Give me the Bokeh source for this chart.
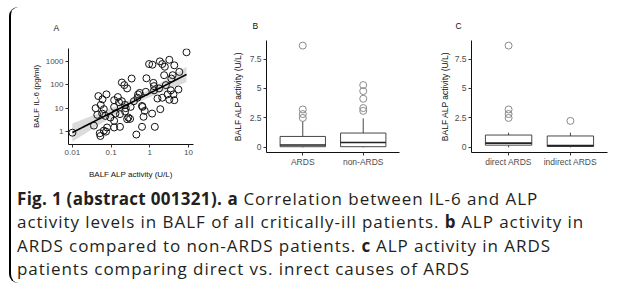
import numpy as np
from bokeh.plotting import figure
from bokeh.models import FixedTicker, Range1d, FactorRange, Div, ColumnDataSource
from bokeh.layouts import row, column
from bokeh.embed import file_html
from bokeh.resources import INLINE

# ---------------- data ----------------
# Panel A: BALF ALP activity (U/L) vs BALF IL-6 (pg/ml)
alp_activity = [0.010, 0.036, 0.040, 0.044, 0.047, 0.051, 0.053, 0.054, 0.059, 0.060, 0.065, 0.065,
                0.071, 0.076, 0.079, 0.074,
                0.096, 0.12, 0.12, 0.12, 0.12, 0.13, 0.15, 0.16, 0.17, 0.17, 0.19, 0.19, 0.22,
                0.23, 0.23, 0.24, 0.26, 0.26, 0.28, 0.31, 0.34, 0.32,
                0.39, 0.45, 0.48, 0.50, 0.55, 0.63, 0.63, 0.65, 0.69, 0.74, 0.79, 0.82, 0.96,
                1.15, 1.17, 1.24, 1.29, 1.29, 1.35, 1.58, 1.74, 1.82, 1.87, 2.1, 2.1, 2.35, 2.45,
                2.6, 2.9, 3.2, 3.2, 3.5, 3.6, 3.9, 4.1, 4.3, 4.3, 5.5, 5.8, 8.9]
il6_level = [0.90, 1.8, 10, 5.2, 33, 0.85, 0.65, 13.8, 5.9, 24, 9.1, 1.1,
             4.7, 39, 1.5, 1.0,
             4.0, 22, 11.3, 2.9, 1.5, 6.0, 30, 18, 5.6, 1.6, 20, 125, 97,
             13.8, 7.2, 10, 70, 3.4, 4.0, 3.5, 185, 11.4,
             20, 0.75, 28, 39, 45, 1.6, 12.5, 11.4, 4.3, 7.7, 50, 190, 770,
             5.9, 720, 121, 88, 58, 1.6, 26, 70, 1000, 9.1, 770, 28, 257, 590,
             97, 39, 1170, 23, 58, 185, 257, 39, 680, 22, 63, 355, 2450]
a_ticks = [0.01, 0.1, 1, 10]
a_tick_labels = ["0.01", "0.1", "1", "10"]
a_yticks = [1, 10, 100, 1000]
a_ytick_labels = ["1", "10", "100", "1000"]

# Panel B: ARDS vs non-ARDS (box statistics)
b_groups = ["ARDS", "non-ARDS"]
b_q1 = [0.06, 0.06]
b_med = [0.20, 0.42]
b_q3 = [0.93, 1.22]
b_lo = [0.0, 0.0]
b_hi = [2.22, 2.46]
b_outliers = [[2.5, 2.83, 3.22, 8.64], [3.1, 3.34, 4.13, 4.78, 5.29]]

# Panel C: direct vs indirect ARDS
c_groups = ["direct ARDS", "indirect ARDS"]
c_q1 = [0.19, 0.08]
c_med = [0.36, 0.15]
c_q3 = [1.05, 0.97]
c_lo = [0.0, 0.0]
c_hi = [1.25, 1.25]
c_outliers = [[2.5, 2.83, 3.22, 8.64], [2.25]]

box_yticks = [0, 2.5, 5, 7.5]
box_ytick_labels = ["0", "2.5", "5", "7.5"]

FONT = "Liberation Sans"


def style(p, tick_size="8px", label_size="8.5px"):
    p.outline_line_color = None
    p.grid.visible = False
    p.background_fill_color = "white"
    p.border_fill_color = "white"
    for ax in p.axis:
        ax.axis_line_color = "#111111"
        ax.axis_line_width = 1
        ax.major_tick_line_color = "#333333"
        ax.major_tick_out = 3
        ax.major_tick_in = 0
        ax.minor_tick_line_color = None
        ax.major_label_text_font = FONT
        ax.major_label_text_font_size = tick_size
        ax.major_label_text_color = "#4d4d4d"
        ax.axis_label_text_font = FONT
        ax.axis_label_text_font_size = label_size
        ax.axis_label_text_font_style = "normal"
        ax.axis_label_text_color = "#111111"
        ax.major_label_standoff = 2


def tag(p, txt, offset, standoff, valign):
    p.title.text = txt
    p.title.align = "left"
    p.title.offset = offset
    p.title.standoff = standoff
    p.title.vertical_align = valign
    p.title.text_font = FONT
    p.title.text_font_size = "8.5px"
    p.title.text_font_style = "normal"
    p.title.text_color = "#111111"


# ---------------- panel A ----------------
pA = figure(width=195, height=180, x_axis_type="log", y_axis_type="log",
            x_range=Range1d(10 ** -2.10, 10 ** 1.13), y_range=Range1d(10 ** -0.55, 10 ** 3.55),
            output_backend="svg", toolbar_location=None, frame_align=False,
            min_border_left=57, min_border_right=13, min_border_top=38, min_border_bottom=45)
style(pA, "8px", "8px")
pA.xaxis.ticker = FixedTicker(ticks=a_ticks)
pA.yaxis.ticker = FixedTicker(ticks=a_yticks)
pA.xaxis.major_label_overrides = dict(zip(a_ticks, a_tick_labels))
pA.yaxis.major_label_overrides = dict(zip(a_yticks, a_ytick_labels))
pA.xaxis.axis_label = "BALF ALP activity (U/L)"
pA.yaxis.axis_label = "BALF IL-6 (pg/ml)"
pA.xaxis.axis_label_standoff = 12
pA.yaxis.axis_label_standoff = 2

lx = np.log10(alp_activity)
ly = np.log10(il6_level)
slope, icpt = np.polyfit(lx, ly, 1)
n = len(lx)
resid = ly - (slope * lx + icpt)
s = np.sqrt(np.sum(resid ** 2) / (n - 2))
sxx = np.sum((lx - lx.mean()) ** 2)
xs = np.linspace(lx.min(), lx.max(), 100)
fit = slope * xs + icpt
se = s * np.sqrt(1.0 / n + (xs - lx.mean()) ** 2 / sxx)
t = 1.99
pA.varea(x=10 ** xs, y1=10 ** (fit - t * se), y2=10 ** (fit + t * se),
         fill_color="#999999", fill_alpha=0.35)
pA.scatter(alp_activity, il6_level, size=7, fill_alpha=0, line_color="#111111", line_width=1)
pA.line(10 ** xs, 10 ** fit, line_color="#000000", line_width=1.6)
tag(pA, "A", -15, 27, "top")


# ---------------- box panels ----------------
def box_panel(groups, q1, med, q3, lo, hi, outliers, width, mbl, mbr, ylabel, tagtxt, toff, y_standoff):
    p = figure(width=width, height=180, x_range=FactorRange(*groups, range_padding=0.1),
               y_range=Range1d(-0.432, 9.072), output_backend="svg", toolbar_location=None,
               frame_align=False,
               min_border_left=mbl, min_border_right=mbr, min_border_top=31, min_border_bottom=37)
    style(p, "8.5px", "8.5px")
    p.yaxis.ticker = FixedTicker(ticks=box_yticks)
    p.yaxis.major_label_overrides = dict(zip(box_yticks, box_ytick_labels))
    p.yaxis.axis_label = ylabel
    p.yaxis.axis_label_standoff = y_standoff
    p.xaxis.major_label_standoff = 1
    p.xaxis.major_tick_out = 3
    src = ColumnDataSource(dict(g=groups, q1=q1, med=med, q3=q3, lo=lo, hi=hi,
                                ml=[(g, -0.375) for g in groups], mr=[(g, 0.375) for g in groups]))
    p.segment(x0="g", y0="q3", x1="g", y1="hi", source=src, line_color="#333333", line_width=0.9)
    p.segment(x0="g", y0="lo", x1="g", y1="q1", source=src, line_color="#333333", line_width=0.9)
    p.vbar(x="g", bottom="q1", top="q3", width=0.75, source=src, fill_color="white",
           line_color="#333333", line_width=0.9)
    p.segment(x0="ml", y0="med", x1="mr", y1="med", source=src, line_color="#222222", line_width=1.6)
    ox, oy = [], []
    for g, vals in zip(groups, outliers):
        ox += [g] * len(vals)
        oy += vals
    p.scatter(ox, oy, size=7, fill_alpha=0, line_color="#8a8a8a", line_width=1)
    tag(p, tagtxt, toff, 19, "bottom")
    return p


pB = box_panel(b_groups, b_q1, b_med, b_q3, b_lo, b_hi, b_outliers, 215, 60, 22,
               "BALF ALP activity (U/L)", "B", -14, 4)
pC = box_panel(c_groups, c_q1, c_med, c_q3, c_lo, c_hi, c_outliers, 199, 50, 13,
               "BALF ALP activity (U/L)", "C", -16, 2)

# thin black rule forming the top edge of the figure frame
top_rule = figure(width=615, height=2, x_range=Range1d(0, 1), y_range=Range1d(0, 1),
                  output_backend="svg", toolbar_location=None, frame_align=False,
                  min_border=0, border_fill_color="#000000", background_fill_color="#000000",
                  outline_line_color=None)
top_rule.axis.visible = False
top_rule.grid.visible = False

B = '<b style="letter-spacing:0.3px">'
caption = Div(
    text=('<div style="font-family:\'Open Sans\';font-size:17px;line-height:23.4px;color:#231f20;'
          'letter-spacing:0.95px;white-space:nowrap;padding-left:6px;margin:-2px 0 0 0">'
          + B + 'Fig. 1 (abstract 001321).</b> ' + B + 'a</b> Correlation between IL-6 and ALP<br>'
          'activity levels in BALF of all critically-ill patients. ' + B + 'b</b> ALP activity in<br>'
          'ARDS compared to non-ARDS patients. ' + B + 'c</b> ALP activity in ARDS<br>'
          'patients comparing direct vs. inrect causes of ARDS</div>'),
    width=615, height=94, margin=0)

layout = column(top_rule, row(pA, pB, pC), caption, margin=(7, 0, 0, 9),
                styles={"border-left": "2px solid #000",
                        "border-top-left-radius": "9px", "border-bottom-left-radius": "9px"})

open("out.html", "w").write(file_html(layout, INLINE))
